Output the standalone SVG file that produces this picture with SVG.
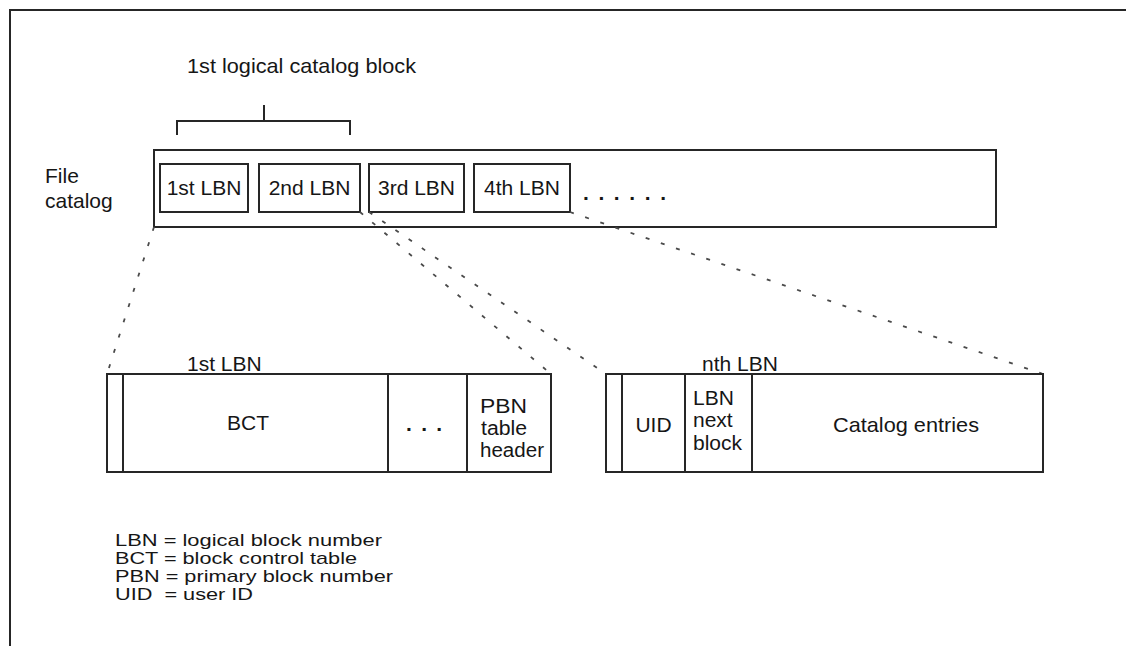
<svg xmlns="http://www.w3.org/2000/svg" width="1126" height="646" viewBox="0 0 1126 646">
<style>
  text { font-family: "Liberation Sans", Arial, sans-serif; font-size: 21px; fill: #161616; }
  .box { fill: none; stroke: #262626; stroke-width: 2; }
  .ln { stroke: #262626; stroke-width: 2; fill: none; }
  .dash { stroke: #4a4a4a; stroke-width: 1.8; stroke-dasharray: 4 12; fill: none; }
  .leg { font-size: 17px; }
  .stack { font-size: 19.5px; }
</style>
<rect width="1126" height="646" fill="#ffffff"/>
<g id="frame">
  <path class="ln" d="M10,646 V10 H1126" stroke="#111"/>
</g>
<g id="logical-block-label">
  <text x="187" y="73" textLength="229" lengthAdjust="spacingAndGlyphs">1st logical catalog block</text>
  <path class="ln" d="M177,135 V121 H350 V135 M264,121 V105"/>
</g>
<g id="file-catalog">
  <text x="45" y="183">File</text>
  <text x="45" y="208">catalog</text>
  <rect class="box" x="154" y="150" width="842" height="77"/>
</g>
<g id="lbn1">
  <rect class="box" x="160" y="164" width="88" height="48"/>
  <text x="204" y="195" text-anchor="middle">1st LBN</text>
</g>
<g id="lbn2">
  <rect class="box" x="259" y="164" width="101" height="48"/>
  <text x="309.5" y="195" text-anchor="middle">2nd LBN</text>
</g>
<g id="lbn3">
  <rect class="box" x="369" y="164" width="95" height="48"/>
  <text x="416.5" y="195" text-anchor="middle">3rd LBN</text>
</g>
<g id="lbn4">
  <rect class="box" x="474" y="164" width="96" height="48"/>
  <text x="522" y="195" text-anchor="middle">4th LBN</text>
</g>
<g id="more-dots">
  <text x="583" y="200" letter-spacing="9.6" font-weight="bold">......</text>
</g>
<g id="connectors">
  <line class="dash" x1="154" y1="227" x2="107" y2="374"/>
  <line class="dash" x1="360" y1="212" x2="551" y2="374"/>
  <line class="dash" x1="369" y1="212" x2="606" y2="374"/>
  <line class="dash" x1="570" y1="212" x2="1043" y2="374"/>
</g>
<g id="first-lbn-detail">
  <text x="187" y="371">1st LBN</text>
  <rect class="box" x="107" y="374" width="444" height="98"/>
  <path class="ln" d="M123,374 V472 M388,374 V472 M467,374 V472"/>
  <text x="248" y="430" text-anchor="middle">BCT</text>
  <text x="406" y="431" letter-spacing="9.3" font-weight="bold">...</text>
  <text class="stack" x="480" y="413" textLength="47" lengthAdjust="spacingAndGlyphs">PBN</text>
  <text class="stack" x="481" y="435" textLength="46" lengthAdjust="spacingAndGlyphs">table</text>
  <text class="stack" x="480" y="457" textLength="64" lengthAdjust="spacingAndGlyphs">header</text>
</g>
<g id="nth-lbn-detail">
  <text x="702" y="371">nth LBN</text>
  <rect class="box" x="606" y="374" width="437" height="98"/>
  <path class="ln" d="M622,374 V472 M685,374 V472 M752,374 V472"/>
  <text x="653.5" y="432" text-anchor="middle">UID</text>
  <text x="693" y="405">LBN</text>
  <text x="693" y="427">next</text>
  <text x="693" y="450">block</text>
  <text x="906" y="432" text-anchor="middle" textLength="146" lengthAdjust="spacingAndGlyphs">Catalog entries</text>
</g>
<g id="legend">
  <text class="leg" x="115" y="546" textLength="267" lengthAdjust="spacingAndGlyphs">LBN = logical block number</text>
  <text class="leg" x="115" y="564" textLength="242" lengthAdjust="spacingAndGlyphs">BCT = block control table</text>
  <text class="leg" x="115" y="582" textLength="278" lengthAdjust="spacingAndGlyphs">PBN = primary block number</text>
  <text class="leg" x="115" y="600" textLength="138" lengthAdjust="spacingAndGlyphs" xml:space="preserve">UID  = user ID</text>
</g>
</svg>
